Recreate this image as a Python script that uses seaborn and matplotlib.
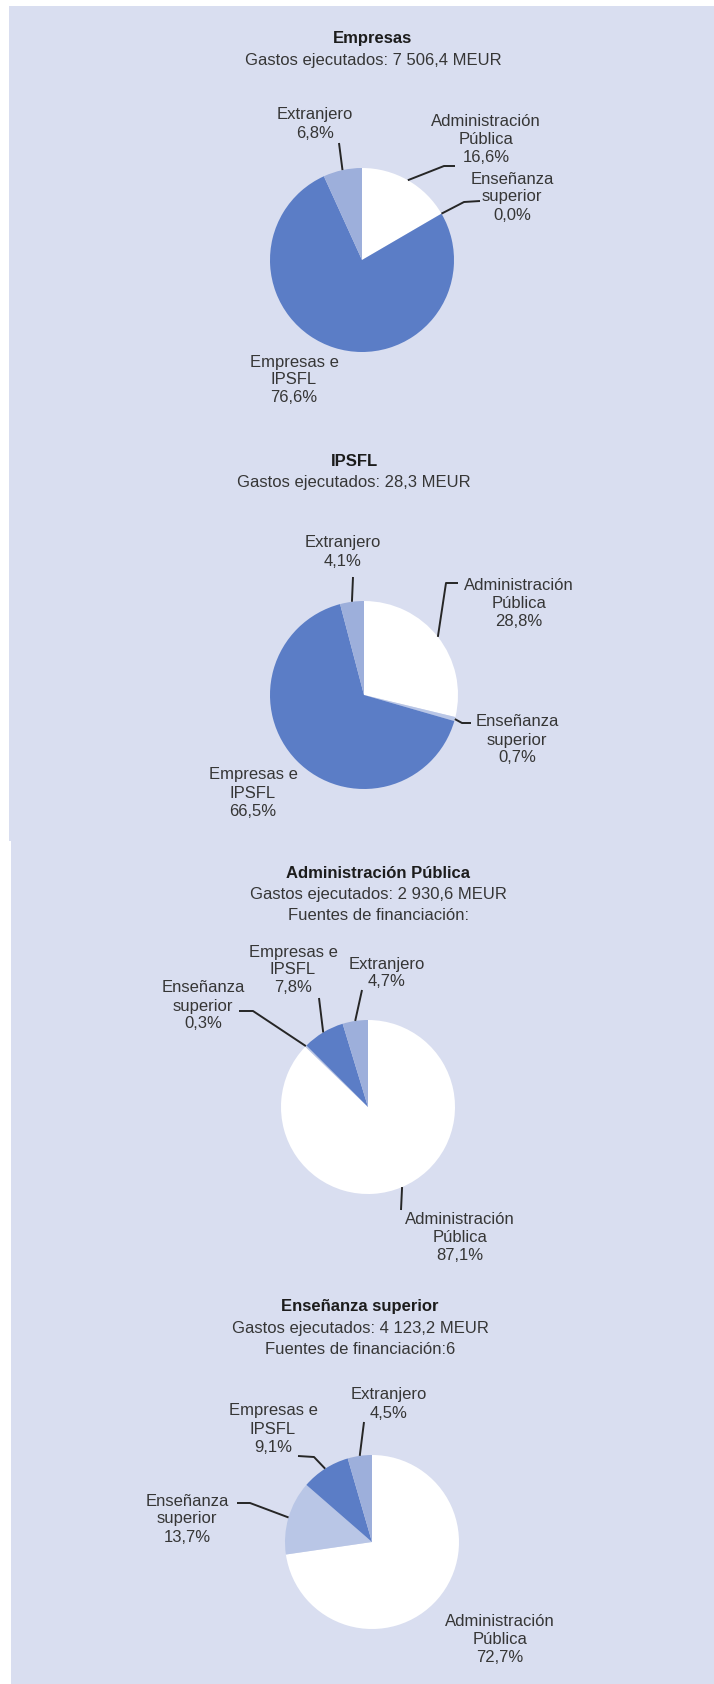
import numpy as np
import matplotlib
matplotlib.use("Agg")
import matplotlib.pyplot as plt
from matplotlib.patches import Rectangle
import seaborn as sns

# ---- data -------------------------------------------------------------
sectores = ["Empresas", "IPSFL", "Administración Pública", "Enseñanza superior"]
gastos_meur = [7506.4, 28.3, 2930.6, 4123.2]
fuentes_txt = [None, None, "Fuentes de financiación:", "Fuentes de financiación:6"]

categorias = ["Administración Pública", "Enseñanza superior", "Empresas e IPSFL", "Extranjero"]
etiquetas = ["Administración\nPública", "Enseñanza\nsuperior", "Empresas e\nIPSFL", "Extranjero"]

pct_empresas = [16.6, 0.0, 76.6, 6.8]
pct_ipsfl = [28.8, 0.7, 66.5, 4.1]
pct_administracion = [87.1, 0.3, 7.8, 4.7]
pct_ensenanza = [72.7, 13.7, 9.1, 4.5]
porcentajes = [pct_empresas, pct_ipsfl, pct_administracion, pct_ensenanza]

# ---- style ------------------------------------------------------------
sns.set_theme(style="white")
plt.rcParams["font.family"] = ["Liberation Sans", "DejaVu Sans"]

BG = "#D9DEF0"
colores = sns.color_palette(["#FFFFFF", "#B9C6E6", "#5B7DC6", "#9DAFDB"])
TXT = "#363636"
LINE = "#262626"
FS = 12

# layout of each panel (pixel coordinates, y downwards)
pie_centro = [(362, 260), (364, 695), (368, 1107), (372, 1542)]
pie_radio = [92, 94, 87, 87]
titulo_pos = [(373, 39), (354, 461), (378, 873), (360, 1307)]

# label block centres per panel, in category order
label_pos = [
    [(486, 139), (512, 197), (294, 380), (315, 124)],
    [(519, 603), (517, 740), (253, 793), (343, 552)],
    [(460, 1237), (203, 1006), (293, 970), (387, 973)],
    [(500, 1639), (187, 1519), (273, 1429), (389, 1404)],
]
# leader routes (after the rim anchor), None = no leader
leader = [
    [[(444, 166), (455, 166)], [(464, 202), (480, 201)], None, [(339, 143)]],
    [[(446, 583), (458, 583)], [(462, 723), (471, 723)], None, [(353, 577)]],
    [[(401, 1210)], [(253, 1011), (239, 1011)], [(319, 998)], [(362, 990)]],
    [None, [(250, 1503), (237, 1503)], [(314, 1457), (298, 1456)], [(364, 1422)]],
]


def fmt_pct(v):
    return f"{v:.1f}".replace(".", ",") + "%"


def fmt_meur(v):
    return f"{v:,.1f}".replace(",", " ").replace(".", ",")


# ---- figure -----------------------------------------------------------
fig = plt.figure(figsize=(7.14, 16.84), dpi=100)
fig.patch.set_facecolor("white")
ax = fig.add_axes([0, 0, 1, 1])

ax.add_patch(Rectangle((9, 6), 705, 835, color=BG, lw=0, zorder=0))
ax.add_patch(Rectangle((11, 841), 703, 843, color=BG, lw=0, zorder=0))

for i, vals in enumerate(porcentajes):
    cx, cy = pie_centro[i]
    r = pie_radio[i]
    # y axis is inverted: start at data -90 and run counter-clockwise in data
    # space, which reads clockwise from 12 o'clock on the page
    ax.pie(vals, colors=colores, startangle=-90, counterclock=True,
           center=(cx, cy), radius=r, frame=True,
           wedgeprops=dict(linewidth=0, zorder=2))

    # titles
    tx, ty = titulo_pos[i]
    ax.text(tx, ty, sectores[i], ha="center", va="center", fontsize=FS,
            fontweight="bold", color="#1C1C1C")
    ax.text(tx, ty + 22, f"Gastos ejecutados: {fmt_meur(gastos_meur[i])} MEUR",
            ha="center", va="center", fontsize=FS, color=TXT)
    if fuentes_txt[i]:
        ax.text(tx, ty + 43, fuentes_txt[i], ha="center", va="center",
                fontsize=FS, color=TXT)

    # labels and leaders
    total = sum(vals)
    cum = np.cumsum([0] + list(vals))
    for j, v in enumerate(vals):
        lx, ly = label_pos[i][j]
        ax.text(lx, ly, f"{etiquetas[j]}\n{fmt_pct(v)}", ha="center",
                va="center", ma="center", fontsize=FS, color=TXT,
                linespacing=1.25, zorder=4)
        route = leader[i][j]
        if route is None:
            continue
        theta = np.deg2rad(360 * (cum[j] + v / 2) / total)
        ax_x = cx + r * np.sin(theta)
        ax_y = cy - r * np.cos(theta)
        xs = [ax_x] + [p[0] for p in route]
        ys = [ax_y] + [p[1] for p in route]
        ax.plot(xs, ys, color=LINE, lw=1.4, solid_capstyle="butt", zorder=3)

ax.set_xlim(0, 714)
ax.set_ylim(1684, 0)
ax.set_aspect("auto")
ax.axis("off")

fig.savefig("out.png", dpi=100, facecolor=fig.get_facecolor())
